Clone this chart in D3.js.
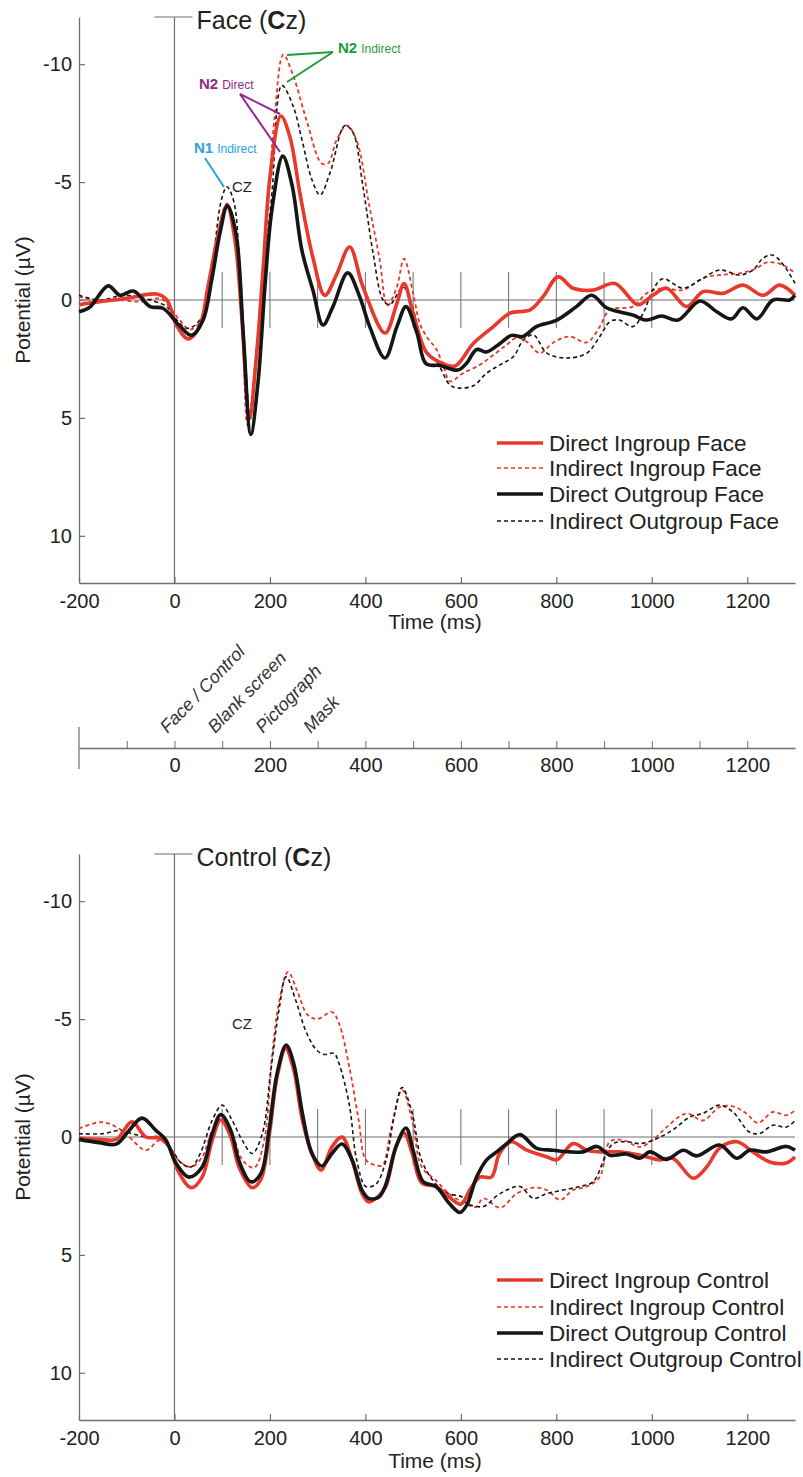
<!DOCTYPE html>
<html>
<head>
<meta charset="utf-8">
<script src="https://cdn.jsdelivr.net/npm/d3@7"></script>
<style>
body { margin: 0; background: #fff; }
text { font-family: "Liberation Sans", Arial, sans-serif; fill: #222; }
</style>
</head>
<body>
<div id="chart"></div>
<script>
// ---- data: [time (ms), potential (uV)] ----
var faceDirectIn = [[-200,0.2],[-156,0.07],[-100,-0.07],[-37,-0.25],[-16,0],[5,1.1],[29,1.65],[53,1.1],[70,-0.55],[89,-2.5],[110,-4.0],[127,-2.5],[141,0.7],[157,5.0],[172,2.3],[186,-1.4],[200,-5.2],[223,-7.8],[242,-6.9],[263,-4.5],[290,-1.8],[315,-0.2],[340,-1.1],[367,-2.25],[395,-0.55],[441,1.4],[466,0.14],[481,-0.7],[500,0.56],[529,2.25],[563,2.7],[588,2.8],[626,1.84],[668,1.13],[703,0.56],[745,0.42],[772,-0.14],[804,-0.98],[835,-0.5],[877,-0.42],[923,-0.7],[971,0.2],[1002,-0.2],[1031,-0.5],[1073,0.28],[1107,-0.35],[1149,-0.28],[1191,-0.63],[1233,-0.2],[1268,-0.63],[1300,-0.2]];
var faceIndirectIn = [[-200,-0.14],[-156,0.07],[-120,0],[-72,0.07],[-37,-0.07],[-24,0],[11,0.85],[32,1.25],[55,0.9],[75,-1.0],[92,-3.0],[110,-4.1],[127,-2.6],[141,0.5],[153,5.3],[170,2.5],[182,-0.2],[196,-4.0],[210,-7.8],[228,-10.4],[249,-9.5],[277,-7.6],[308,-5.8],[322,-5.8],[340,-6.8],[361,-7.4],[381,-6.8],[409,-3.9],[430,-1.7],[446,0.25],[466,-0.56],[481,-1.75],[500,-0.3],[514,1.0],[530,1.6],[549,2.1],[565,2.9],[577,3.45],[605,3.1],[640,2.75],[668,2.33],[696,1.9],[717,1.6],[738,1.77],[765,2.25],[794,1.8],[828,1.55],[864,1.8],[891,1.13],[912,0.42],[960,0.28],[989,-0.28],[1023,-0.5],[1065,-0.42],[1107,-0.92],[1142,-1.06],[1184,-1.13],[1220,-1.35],[1241,-1.6],[1275,-1.48],[1300,-1.13]];
var faceDirectOut = [[-200,0.5],[-177,0.3],[-139,-0.6],[-114,-0.2],[-86,-0.38],[-51,0.28],[-24,0.35],[11,1.1],[36,1.5],[60,0.85],[78,-0.85],[95,-2.8],[111,-4.0],[129,-2.8],[144,1.4],[160,5.7],[175,3.5],[190,-0.7],[204,-3.8],[227,-6.1],[246,-4.9],[267,-2.1],[290,-0.42],[311,1.06],[332,0.28],[363,-1.15],[388,-0.14],[409,1.13],[441,2.46],[466,1.13],[485,0.28],[508,1.4],[527,2.7],[556,2.78],[594,2.97],[612,2.68],[633,2.1],[654,2.2],[682,1.84],[706,1.5],[730,1.55],[758,1.13],[801,0.85],[842,0.28],[874,-0.2],[905,0.33],[932,0.5],[960,0.64],[989,0.85],[1020,0.68],[1055,0.85],[1101,0.04],[1136,0.5],[1167,0.8],[1191,0.33],[1220,0.8],[1254,0],[1289,0],[1300,-0.2]];
var faceIndirectOut = [[-200,-0.2],[-156,0],[-107,-0.2],[-65,-0.07],[-16,0.28],[-5,0.6],[26,1.2],[53,0.85],[78,-1.4],[99,-4.3],[110,-4.8],[124,-4.2],[137,-1.4],[150,3.0],[158,5.1],[172,2.5],[186,-0.7],[204,-4.5],[225,-9.1],[249,-8.2],[267,-6.8],[288,-5.1],[305,-4.45],[326,-5.4],[357,-7.4],[374,-7.1],[395,-4.8],[416,-2.0],[437,0],[451,0.2],[479,-0.55],[500,0.4],[521,2.0],[549,2.6],[577,3.6],[594,3.73],[626,3.64],[654,3.1],[682,2.75],[710,2.4],[731,1.7],[752,1.48],[780,2.25],[821,2.46],[864,2.25],[891,1.55],[912,0.92],[932,0.85],[960,1.13],[982,0.56],[1002,-0.42],[1023,-0.9],[1065,-0.5],[1101,-0.85],[1142,-1.27],[1184,-1.06],[1212,-1.27],[1233,-1.77],[1254,-1.9],[1279,-1.4],[1300,-0.7]];

var ctrlDirectIn = [[-200,0.05],[-158,0.1],[-122,0.1],[-89,-0.64],[-60,0],[-32,0.05],[-12,0.4],[9,1.5],[35,2.15],[58,1.7],[79,0.13],[97,-0.72],[118,0],[135,1.27],[163,2.15],[181,1.8],[198,0],[215,-2.55],[233,-3.76],[250,-2.84],[268,-0.72],[288,0.7],[307,1.4],[330,0.42],[351,0.0],[372,0.97],[393,2.4],[407,2.75],[428,2.5],[443,2.1],[464,0.42],[481,-0.17],[498,0.7],[518,1.95],[548,2.1],[575,2.54],[600,2.85],[620,2.2],[640,1.7],[664,1.7],[681,0.7],[706,0.2],[738,0.56],[780,0.84],[801,0.97],[835,0.28],[864,0.56],[891,0.63],[932,0.63],[975,0.77],[1017,0.97],[1044,0.9],[1087,1.75],[1115,1.27],[1142,0.47],[1178,0.2],[1212,0.63],[1247,1.06],[1282,1.1],[1300,0.85]];
var ctrlIndirectIn = [[-200,-0.36],[-152,-0.63],[-110,-0.28],[-60,0.56],[-32,0.14],[-12,0.4],[9,1.0],[35,1.27],[58,0.85],[79,-0.28],[97,-0.77],[121,-0.14],[142,0.97],[167,1.3],[188,0.13],[205,-3.55],[219,-5.7],[238,-7.0],[257,-6.2],[278,-5.2],[299,-5.0],[330,-5.3],[345,-4.8],[366,-3.0],[386,-0.7],[401,0.97],[422,1.2],[436,1.2],[453,-0.28],[477,-2.0],[498,-0.7],[518,1.27],[548,1.84],[575,2.4],[603,2.75],[631,2.97],[647,2.6],[682,3.0],[717,2.4],[752,2.15],[780,2.25],[808,2.67],[835,2.25],[864,2.1],[891,1.7],[912,0.2],[940,0.13],[975,0.42],[1002,0.13],[1031,-0.42],[1073,-1.0],[1107,-0.7],[1142,-1.27],[1170,-1.3],[1198,-1.0],[1222,-0.6],[1254,-1.06],[1282,-0.92],[1300,-1.13]];
var ctrlDirectOut = [[-200,0.1],[-158,0.24],[-122,0.3],[-95,-0.28],[-68,-0.8],[-39,-0.28],[-18,0.13],[3,1.1],[30,1.7],[58,1.27],[79,-0.14],[97,-0.95],[118,-0.28],[135,1.0],[160,1.9],[181,1.55],[198,-0.28],[215,-2.7],[234,-3.9],[250,-3.1],[268,-1.0],[288,0.7],[309,1.23],[330,0.7],[351,0.3],[372,0.97],[393,2.26],[407,2.6],[428,2.55],[443,2.0],[464,0.42],[485,-0.38],[500,0.56],[521,1.9],[548,2.1],[575,2.8],[598,3.2],[612,2.9],[633,1.7],[654,0.97],[675,0.63],[696,0.28],[724,-0.1],[758,0.47],[794,0.56],[828,0.63],[856,0.63],[885,0.4],[912,0.77],[947,0.72],[975,0.9],[996,0.63],[1031,0.95],[1066,0.56],[1094,0.8],[1142,0.34],[1178,0.9],[1205,0.56],[1240,0.63],[1282,0.4],[1300,0.56]];
var ctrlIndirectOut = [[-200,-0.14],[-150,-0.14],[-114,-0.28],[-89,-0.14],[-60,0],[-32,0],[-5,0.56],[14,1.1],[35,1.27],[54,0.7],[79,-0.7],[100,-1.35],[121,-0.7],[142,0.14],[163,0.7],[184,-0.14],[202,-2.84],[219,-5.4],[234,-6.8],[254,-5.8],[275,-4.5],[297,-3.7],[314,-3.5],[334,-3.55],[345,-3.1],[366,-1.4],[382,1.0],[401,2.1],[422,2.0],[443,1.0],[460,-0.85],[477,-2.1],[498,-1.0],[518,1.0],[548,2.0],[575,2.4],[603,2.55],[612,2.8],[647,2.95],[675,2.5],[696,2.25],[724,2.1],[752,2.6],[780,2.4],[814,2.25],[849,2.1],[877,1.9],[902,0.85],[919,0.28],[947,0.2],[975,0.28],[1010,0.07],[1044,-0.3],[1080,-0.85],[1107,-1.0],[1142,-1.35],[1170,-1.06],[1205,-0.2],[1226,-0.15],[1254,-0.5],[1282,-0.42],[1300,-0.7]];

var faceNames = ["Direct Ingroup Face", "Indirect Ingroup Face", "Direct Outgroup Face", "Indirect Outgroup Face"];
var ctrlNames = ["Direct Ingroup Control", "Indirect Ingroup Control", "Direct Outgroup Control", "Indirect Outgroup Control"];

var xTicks = [-200, 0, 200, 400, 600, 800, 1000, 1200];
var yTicks = [-10, -5, 0, 5, 10];
var stimTicks = [100, 200, 300, 400, 500, 600, 700, 800, 900, 1000];
var timelineTicks = [-100, 0, 100, 200, 300, 400, 500, 600, 700, 800, 900, 1000, 1100, 1200];
var stageNames = ["Face / Control", "Blank screen", "Pictograph", "Mask"];
var stageTimes = [0, 100, 200, 300];

// ---- styles ----
var RED = "#e8392c", BLACK = "#161616", AXIS = "#6e6e6e";
var styles = [
  {color: RED, width: 3.6, dash: null},
  {color: RED, width: 1.8, dash: "4,3"},
  {color: BLACK, width: 3.6, dash: null},
  {color: BLACK, width: 1.6, dash: "4,3"}
];

var svg = d3.select("#chart").append("svg")
    .attr("width", 803)
    .attr("height", 1477);

var x = d3.scaleLinear().domain([-200, 1300]).range([79, 795]);

function drawPanel(top, titleMain, series, names, legendTop, timeBase) {
  var y = d3.scaleLinear().domain([-12, 12]).range([top, top + 566]);
  var g = svg.append("g");

  // zero line + stimulus tick marks
  g.append("line")
      .attr("x1", x(-200)).attr("x2", x(1300))
      .attr("y1", y(0)).attr("y2", y(0))
      .attr("stroke", AXIS).attr("stroke-width", 1.2);
  g.selectAll(".stim").data(stimTicks).enter().append("line")
      .attr("x1", function(d) { return x(d); })
      .attr("x2", function(d) { return x(d); })
      .attr("y1", y(0) - 28).attr("y2", y(0) + 28)
      .attr("stroke", AXIS).attr("stroke-width", 1);
  // vertical line at 0 ms, with the short bar at the top
  g.append("line")
      .attr("x1", x(0)).attr("x2", x(0))
      .attr("y1", y(-12)).attr("y2", y(12))
      .attr("stroke", AXIS).attr("stroke-width", 1.2);
  g.append("line")
      .attr("x1", x(0) - 20).attr("x2", x(0) + 18)
      .attr("y1", y(-12)).attr("y2", y(-12))
      .attr("stroke", AXIS).attr("stroke-width", 1.2);

  var yAxis = d3.axisLeft(y).tickValues(yTicks).tickSizeInner(-6).tickSizeOuter(0)
      .tickPadding(7).tickFormat(function(d) { return String(d); });
  var xAxis = d3.axisBottom(x).tickValues(xTicks).tickSizeInner(-6).tickSizeOuter(0)
      .tickPadding(11).tickFormat(function(d) { return String(d); });

  var ya = g.append("g").attr("transform", "translate(" + x(-200) + ",0)").call(yAxis);
  var xa = g.append("g").attr("transform", "translate(0," + y(12) + ")").call(xAxis);
  [ya, xa].forEach(function(a) {
    a.attr("font-size", 20).attr("font-family", "Liberation Sans, Arial, sans-serif");
    a.select(".domain").attr("stroke", AXIS).attr("stroke-width", 1.3);
    a.selectAll(".tick line").attr("stroke", AXIS).attr("stroke-width", 1.2);
    a.selectAll(".tick text").attr("fill", "#222");
  });

  // curves: dashed first, solid on top
  var line = d3.line()
      .x(function(d) { return x(d[0]); })
      .y(function(d) { return y(d[1]); })
      .curve(d3.curveCatmullRom.alpha(0.5));
  [1, 3, 0, 2].forEach(function(i) {
    g.append("path")
        .datum(series[i])
        .attr("d", line)
        .attr("fill", "none")
        .attr("stroke", styles[i].color)
        .attr("stroke-width", styles[i].width)
        .attr("stroke-dasharray", styles[i].dash)
        .attr("stroke-linejoin", "round");
  });

  // legend
  var leg = g.selectAll(".leg").data(names).enter().append("g")
      .attr("transform", function(d, i) { return "translate(497," + legendTop[i] + ")"; });
  leg.append("line")
      .attr("x1", 0).attr("x2", 46).attr("y1", 0).attr("y2", 0)
      .attr("stroke", function(d, i) { return styles[i].color; })
      .attr("stroke-width", function(d, i) { return styles[i].dash ? 1.6 : 3.6; })
      .attr("stroke-dasharray", function(d, i) { return styles[i].dash; });
  leg.append("text")
      .attr("x", 52).attr("y", 8)
      .attr("font-size", 22.5)
      .text(function(d) { return d; });

  // title
  var t = g.append("text").attr("x", x(0) + 22).attr("y", y(-12) + 12).attr("font-size", 25);
  t.append("tspan").text(titleMain + " (");
  t.append("tspan").attr("font-weight", "bold").text("C");
  t.append("tspan").text("z)");

  // axis titles
  g.append("text")
      .attr("transform", "translate(30," + y(0) + ") rotate(-90)")
      .attr("text-anchor", "middle").attr("font-size", 21)
      .text("Potential (\u00b5V)");
  g.append("text")
      .attr("x", 435).attr("y", timeBase)
      .attr("text-anchor", "middle").attr("font-size", 21)
      .text("Time (ms)");

  // CZ electrode label
  g.append("text").attr("x", 232).attr("y", y(-4.6)).attr("font-size", 15).text("CZ");
  return y;
}

drawPanel(17, "Face", [faceDirectIn, faceIndirectIn, faceDirectOut, faceIndirectOut],
    faceNames, [443, 468, 494, 521], 629);
drawPanel(854, "Control", [ctrlDirectIn, ctrlIndirectIn, ctrlDirectOut, ctrlIndirectOut],
    ctrlNames, [1280, 1307, 1333, 1359], 1468);

// ---- component annotations (top panel) ----
function note(xp, yp, big, small, color) {
  var t = svg.append("text").attr("x", xp).attr("y", yp)
      .attr("font-family", "Open Sans, sans-serif").style("fill", color);
  t.append("tspan").attr("font-size", 15).attr("font-weight", "bold").text(big);
  t.append("tspan").attr("font-size", 12).attr("dx", 4).text(small);
}
function pointer(x1, y1, x2, y2, color) {
  svg.append("line").attr("x1", x1).attr("y1", y1).attr("x2", x2).attr("y2", y2)
      .attr("stroke", color).attr("stroke-width", 2);
}
var BLUE = "#27a3dd", PURPLE = "#8e2a8c", GREEN = "#1f9a3c";
note(194, 153, "N1", "Indirect", BLUE);
pointer(205, 158, 224, 187, BLUE);
note(199, 89, "N2", "Direct", PURPLE);
pointer(240, 94, 280, 114, PURPLE);
pointer(240, 94, 280, 152, PURPLE);
note(338, 53, "N2", "Indirect", GREEN);
pointer(333, 52, 287, 55, GREEN);
pointer(333, 52, 287, 82, GREEN);

// ---- stimulus timeline ----
var tl = svg.append("g").attr("transform", "translate(0,748)");
var tlAxis = d3.axisBottom(x).tickValues(timelineTicks).tickSizeInner(-7).tickSizeOuter(0)
    .tickPadding(10)
    .tickFormat(function(d) { return d % 200 === 0 ? String(d) : ""; });
tl.call(tlAxis);
tl.attr("font-size", 20).attr("font-family", "Liberation Sans, Arial, sans-serif");
tl.select(".domain").attr("stroke", AXIS).attr("stroke-width", 1.5);
tl.selectAll(".tick line").attr("stroke", AXIS);
tl.selectAll(".tick text").attr("fill", "#333");
svg.append("line").attr("x1", x(-200)).attr("x2", x(-200))
    .attr("y1", 727).attr("y2", 769).attr("stroke", AXIS).attr("stroke-width", 1.2);
svg.selectAll(".stage").data(stageNames).enter().append("text")
    .attr("transform", function(d, i) {
      return "translate(" + (x(stageTimes[i]) - 7) + ",734) rotate(-46)";
    })
    .attr("font-family", "Open Sans, sans-serif")
    .attr("font-style", "italic")
    .attr("font-size", 18)
    .style("fill", "#333")
    .text(function(d) { return d; });
</script>
</body>
</html>
